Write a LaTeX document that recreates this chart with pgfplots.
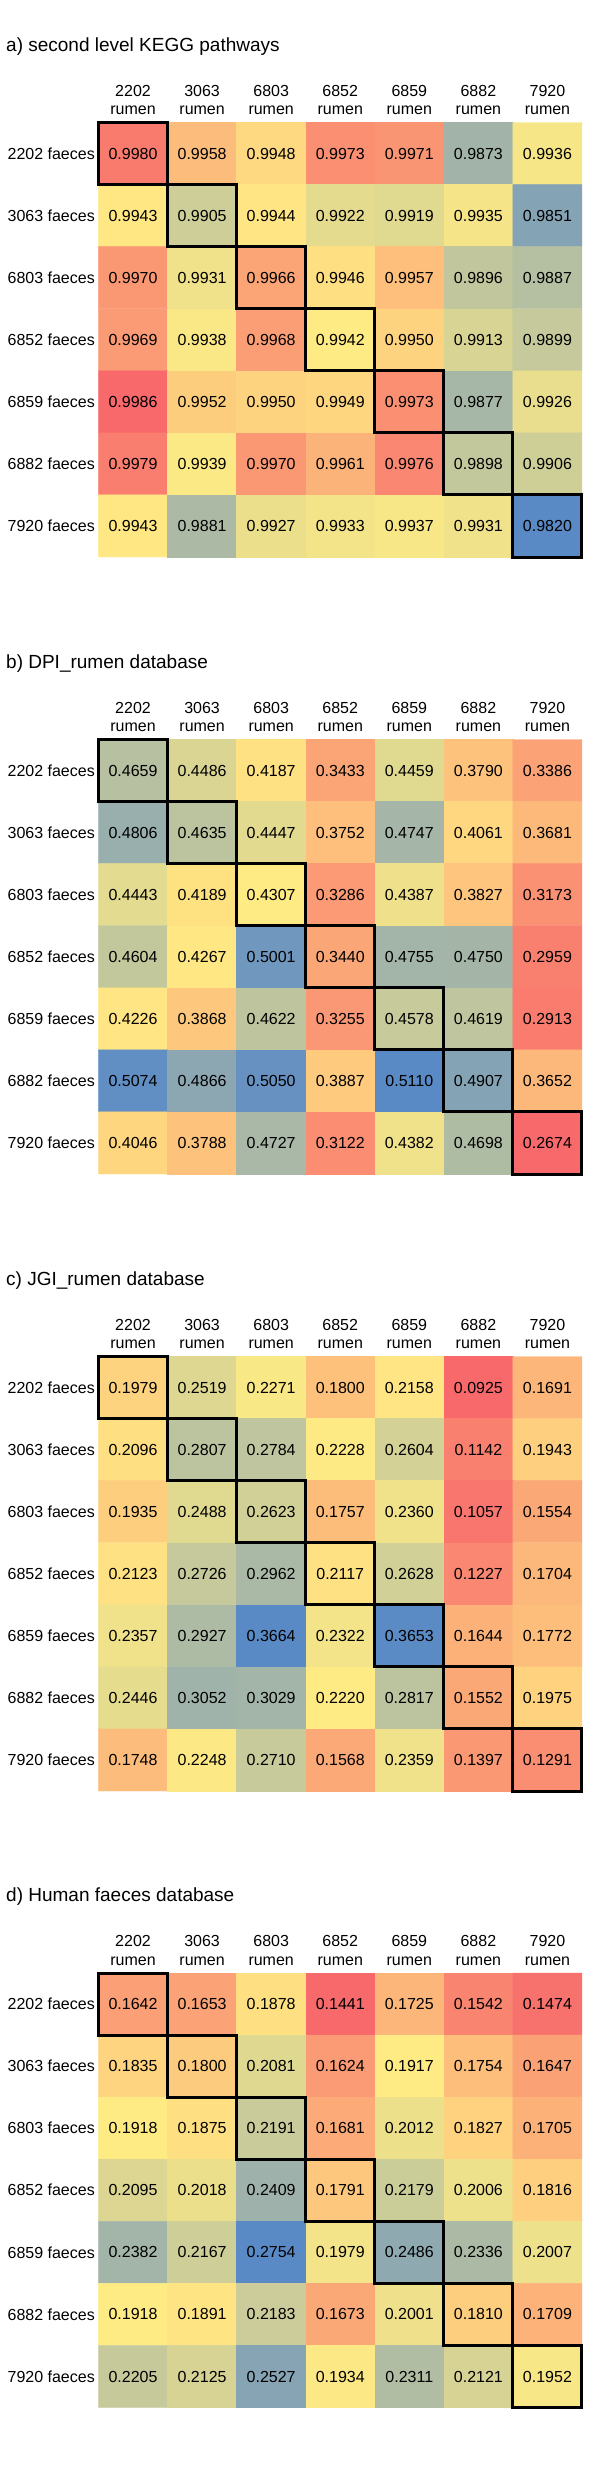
\documentclass[border=0pt]{standalone}
\usepackage{fontspec}
\setmainfont{Liberation Sans}
\usepackage{pgfplots}
\usepackage{pgfplotstable}
\pgfplotsset{compat=1.18}

% Excel style three colour scale
\pgfplotsset{
  hm/.style={
    scale only axis, width=483.5pt, height=434.5pt, anchor=north west,
    xmin=-0.5, xmax=6.5, ymin=-0.5, ymax=6.5, y dir=reverse,
    enlargelimits=false, clip=false,
    axis line style={draw=none}, major tick length=0pt, tick style={draw=none},
    xtick={0,...,6}, ytick={0,...,6},
    xticklabels={{2202\\rumen},{3063\\rumen},{6803\\rumen},{6852\\rumen},{6859\\rumen},{6882\\rumen},{7920\\rumen}},
    yticklabels={2202 faeces,3063 faeces,6803 faeces,6852 faeces,6859 faeces,6882 faeces,7920 faeces},
    xticklabel pos=upper,
    x tick label style={align=center, anchor=south, inner sep=0pt, yshift=7.5pt,
      font=\fontsize{16}{18.3}\selectfont},
    y tick label style={anchor=east, inner sep=0pt, xshift=-3.5pt,
      font=\fontsize{16}{18.3}\selectfont},
    title style={at={(0,1)}, anchor=base west, inner sep=0pt, xshift=-92.5pt, yshift=65.5pt,
      font=\fontsize{19}{22}\selectfont},
  },
  cells/.style={matrix plot*, mesh/cols=7, point meta=explicit},
  nums/.style={only marks, mark=*, mark size=0pt, mark options={draw=none, fill=none},
    mesh/check=false,
    point meta=explicit symbolic, nodes near coords={\pgfplotspointmeta},
    nodes near coords align=center,
    every node near coord/.append style={anchor=center, inner sep=0pt, text=black,
      font=\fontsize{16}{18}\selectfont}},
  diag/.style={sharp plot, mesh/check=false, black, line width=3pt, line join=miter, mark=none},
}

\pgfplotstableread[row sep=\\]{
x y v\\
0 0 0.9980\\ 1 0 0.9958\\ 2 0 0.9948\\ 3 0 0.9973\\ 4 0 0.9971\\ 5 0 0.9873\\ 6 0 0.9936\\
0 1 0.9943\\ 1 1 0.9905\\ 2 1 0.9944\\ 3 1 0.9922\\ 4 1 0.9919\\ 5 1 0.9935\\ 6 1 0.9851\\
0 2 0.9970\\ 1 2 0.9931\\ 2 2 0.9966\\ 3 2 0.9946\\ 4 2 0.9957\\ 5 2 0.9896\\ 6 2 0.9887\\
0 3 0.9969\\ 1 3 0.9938\\ 2 3 0.9968\\ 3 3 0.9942\\ 4 3 0.9950\\ 5 3 0.9913\\ 6 3 0.9899\\
0 4 0.9986\\ 1 4 0.9952\\ 2 4 0.9950\\ 3 4 0.9949\\ 4 4 0.9973\\ 5 4 0.9877\\ 6 4 0.9926\\
0 5 0.9979\\ 1 5 0.9939\\ 2 5 0.9970\\ 3 5 0.9961\\ 4 5 0.9976\\ 5 5 0.9898\\ 6 5 0.9906\\
0 6 0.9943\\ 1 6 0.9881\\ 2 6 0.9927\\ 3 6 0.9933\\ 4 6 0.9937\\ 5 6 0.9931\\ 6 6 0.9820\\
}\tabA

\pgfplotstableread[row sep=\\]{
x y v\\
0 0 0.4659\\ 1 0 0.4486\\ 2 0 0.4187\\ 3 0 0.3433\\ 4 0 0.4459\\ 5 0 0.3790\\ 6 0 0.3386\\
0 1 0.4806\\ 1 1 0.4635\\ 2 1 0.4447\\ 3 1 0.3752\\ 4 1 0.4747\\ 5 1 0.4061\\ 6 1 0.3681\\
0 2 0.4443\\ 1 2 0.4189\\ 2 2 0.4307\\ 3 2 0.3286\\ 4 2 0.4387\\ 5 2 0.3827\\ 6 2 0.3173\\
0 3 0.4604\\ 1 3 0.4267\\ 2 3 0.5001\\ 3 3 0.3440\\ 4 3 0.4755\\ 5 3 0.4750\\ 6 3 0.2959\\
0 4 0.4226\\ 1 4 0.3868\\ 2 4 0.4622\\ 3 4 0.3255\\ 4 4 0.4578\\ 5 4 0.4619\\ 6 4 0.2913\\
0 5 0.5074\\ 1 5 0.4866\\ 2 5 0.5050\\ 3 5 0.3887\\ 4 5 0.5110\\ 5 5 0.4907\\ 6 5 0.3652\\
0 6 0.4046\\ 1 6 0.3788\\ 2 6 0.4727\\ 3 6 0.3122\\ 4 6 0.4382\\ 5 6 0.4698\\ 6 6 0.2674\\
}\tabB

\pgfplotstableread[row sep=\\]{
x y v\\
0 0 0.1979\\ 1 0 0.2519\\ 2 0 0.2271\\ 3 0 0.1800\\ 4 0 0.2158\\ 5 0 0.0925\\ 6 0 0.1691\\
0 1 0.2096\\ 1 1 0.2807\\ 2 1 0.2784\\ 3 1 0.2228\\ 4 1 0.2604\\ 5 1 0.1142\\ 6 1 0.1943\\
0 2 0.1935\\ 1 2 0.2488\\ 2 2 0.2623\\ 3 2 0.1757\\ 4 2 0.2360\\ 5 2 0.1057\\ 6 2 0.1554\\
0 3 0.2123\\ 1 3 0.2726\\ 2 3 0.2962\\ 3 3 0.2117\\ 4 3 0.2628\\ 5 3 0.1227\\ 6 3 0.1704\\
0 4 0.2357\\ 1 4 0.2927\\ 2 4 0.3664\\ 3 4 0.2322\\ 4 4 0.3653\\ 5 4 0.1644\\ 6 4 0.1772\\
0 5 0.2446\\ 1 5 0.3052\\ 2 5 0.3029\\ 3 5 0.2220\\ 4 5 0.2817\\ 5 5 0.1552\\ 6 5 0.1975\\
0 6 0.1748\\ 1 6 0.2248\\ 2 6 0.2710\\ 3 6 0.1568\\ 4 6 0.2359\\ 5 6 0.1397\\ 6 6 0.1291\\
}\tabC

\pgfplotstableread[row sep=\\]{
x y v\\
0 0 0.1642\\ 1 0 0.1653\\ 2 0 0.1878\\ 3 0 0.1441\\ 4 0 0.1725\\ 5 0 0.1542\\ 6 0 0.1474\\
0 1 0.1835\\ 1 1 0.1800\\ 2 1 0.2081\\ 3 1 0.1624\\ 4 1 0.1917\\ 5 1 0.1754\\ 6 1 0.1647\\
0 2 0.1918\\ 1 2 0.1875\\ 2 2 0.2191\\ 3 2 0.1681\\ 4 2 0.2012\\ 5 2 0.1827\\ 6 2 0.1705\\
0 3 0.2095\\ 1 3 0.2018\\ 2 3 0.2409\\ 3 3 0.1791\\ 4 3 0.2179\\ 5 3 0.2006\\ 6 3 0.1816\\
0 4 0.2382\\ 1 4 0.2167\\ 2 4 0.2754\\ 3 4 0.1979\\ 4 4 0.2486\\ 5 4 0.2336\\ 6 4 0.2007\\
0 5 0.1918\\ 1 5 0.1891\\ 2 5 0.2183\\ 3 5 0.1673\\ 4 5 0.2001\\ 5 5 0.1810\\ 6 5 0.1709\\
0 6 0.2205\\ 1 6 0.2125\\ 2 6 0.2527\\ 3 6 0.1934\\ 4 6 0.2311\\ 5 6 0.2121\\ 6 6 0.1952\\
}\tabD

\newcommand{\stair}{%
  \addplot[diag] coordinates {(0,-0.5) (0.5,-0.5) (0.5,0.5) (1.5,0.5) (1.5,1.5) (2.5,1.5)
    (2.5,2.5) (3.5,2.5) (3.5,3.5) (4.5,3.5) (4.5,4.5) (5.5,4.5) (5.5,5.5) (6.5,5.5)
    (6.5,6.5) (5.5,6.5) (5.5,5.5) (4.5,5.5) (4.5,4.5) (3.5,4.5) (3.5,3.5) (2.5,3.5)
    (2.5,2.5) (1.5,2.5) (1.5,1.5) (0.5,1.5) (0.5,0.5) (-0.5,0.5) (-0.5,-0.5) (0,-0.5)};}

\begin{document}
\begin{tikzpicture}
\useasboundingbox (0pt,0pt) rectangle (600pt,-2485pt);

% a) low = blue, median = yellow, high = red
\begin{axis}[hm, at={(98.5pt,-122.5pt)}, title={a) second level KEGG pathways},
  point meta min=0.9820, point meta max=0.9986,
  colormap={ma}{rgb255(0pt)=(90,138,198) rgb255(122pt)=(255,235,132) rgb255(166pt)=(248,105,107)}]
  \addplot[cells] table[meta=v] {\tabA};
  \addplot[nums] table[meta=v] {\tabA};
  \stair
\end{axis}

% b) low = red, median = yellow, high = blue
\begin{axis}[hm, at={(98.5pt,-739.5pt)}, title={b) DPI\_rumen database},
  point meta min=0.2674, point meta max=0.5110,
  colormap={mb}{rgb255(0pt)=(248,105,107) rgb255(1633pt)=(255,235,132) rgb255(2436pt)=(90,138,198)}]
  \addplot[cells] table[meta=v] {\tabB};
  \addplot[nums] table[meta=v] {\tabB};
  \stair
\end{axis}

% c)
\begin{axis}[hm, at={(98.5pt,-1356.5pt)}, title={c) JGI\_rumen database},
  point meta min=0.0925, point meta max=0.3664,
  colormap={mc}{rgb255(0pt)=(248,105,107) rgb255(1295pt)=(255,235,132) rgb255(2739pt)=(90,138,198)}]
  \addplot[cells] table[meta=v] {\tabC};
  \addplot[nums] table[meta=v] {\tabC};
  \stair
\end{axis}

% d)
\begin{axis}[hm, at={(98.5pt,-1973pt)}, title={d) Human faeces database},
  point meta min=0.1441, point meta max=0.2754,
  colormap={md}{rgb255(0pt)=(248,105,107) rgb255(477pt)=(255,235,132) rgb255(1313pt)=(90,138,198)}]
  \addplot[cells] table[meta=v] {\tabD};
  \addplot[nums] table[meta=v] {\tabD};
  \stair
\end{axis}
\end{tikzpicture}
\end{document}
